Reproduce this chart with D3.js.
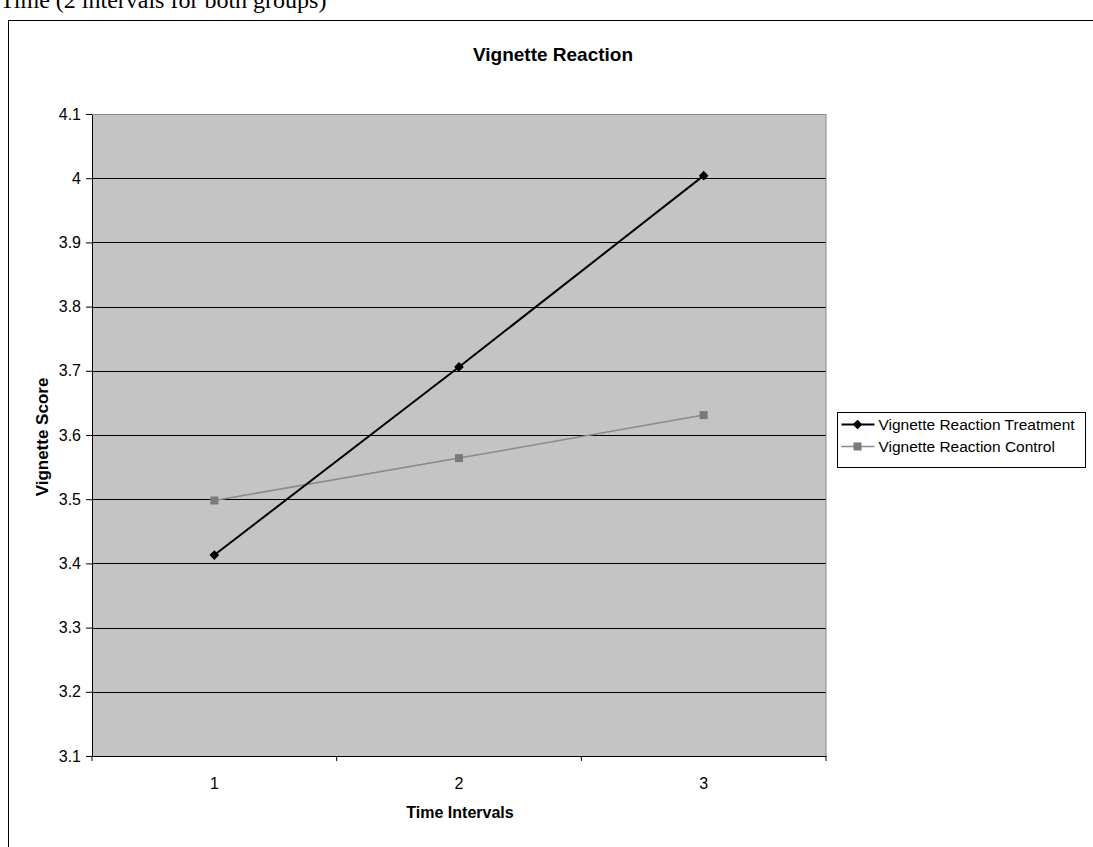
<!DOCTYPE html>
<html>
<head>
<meta charset="utf-8">
<script src="https://cdn.jsdelivr.net/npm/d3@7"></script>
<style>
  body { margin: 0; background: #fff; }
  svg { display: block; }
</style>
</head>
<body>
<div id="chart"></div>
<script>
// data
const categories = ['1', '2', '3'];
const treatment = [3.413, 3.706, 4.004];
const control = [3.498, 3.564, 3.631];
const yTicks = [3.1, 3.2, 3.3, 3.4, 3.5, 3.6, 3.7, 3.8, 3.9, 4, 4.1];
const seriesNames = ['Vignette Reaction Treatment', 'Vignette Reaction Control'];

const W = 1093, H = 847;
const margin = { top: 114, left: 92, right: 267, bottom: 91 };
const width = W - margin.left - margin.right;
const height = H - margin.top - margin.bottom;

const svg = d3.select('#chart').append('svg')
  .attr('width', W).attr('height', H)
  .style('font-family', 'Arial, "Liberation Sans", sans-serif');

// caption line from the page above the chart (cropped in the source)
svg.append('text')
  .attr('x', 0).attr('y', 8)
  .style('font-family', '"Liberation Serif", "Times New Roman", serif')
  .style('font-size', '24px')
  .text('Time (2 intervals for both groups)');

// chart frame
svg.append('rect')
  .attr('x', 8.5).attr('y', 20.5)
  .attr('width', W + 10).attr('height', H)
  .attr('fill', 'none').attr('stroke', '#000');

const g = svg.append('g')
  .attr('transform', `translate(${margin.left},${margin.top})`);

const x = d3.scaleBand().domain(categories).range([0, width]);
const y = d3.scaleLinear().domain([3.1, 4.1]).range([height, 0]);

// plot area
g.append('rect')
  .attr('width', width).attr('height', height)
  .attr('fill', '#c4c4c4');

// gridlines
g.append('g')
  .selectAll('line')
  .data(yTicks.slice(1))
  .enter().append('line')
  .attr('x1', 0).attr('x2', width)
  .attr('y1', d => Math.round(y(d)) + 0.5)
  .attr('y2', d => Math.round(y(d)) + 0.5)
  .attr('stroke', '#000').attr('stroke-width', 1);

// axes
const yAxis = g.append('g')
  .call(d3.axisLeft(y).tickValues(yTicks).tickSize(6).tickPadding(5).tickFormat(d3.format('')));
yAxis.attr('font-size', null).attr('font-family', null);
yAxis.selectAll('text').style('font-size', '16px').attr('fill', '#000');

const xAxis = g.append('g')
  .attr('transform', `translate(0,${height})`)
  .call(d3.axisBottom(x).tickSize(0).tickPadding(22));
xAxis.attr('font-size', null).attr('font-family', null);
xAxis.selectAll('text').style('font-size', '16px').attr('fill', '#000');

// tick marks between categories
g.append('g')
  .selectAll('line')
  .data(categories.concat(['end']))
  .enter().append('line')
  .attr('x1', (d, i) => i < categories.length ? x(d) : width)
  .attr('x2', (d, i) => i < categories.length ? x(d) : width)
  .attr('y1', height).attr('y2', height + 5)
  .attr('stroke', '#000');

g.append('line')
  .attr('x1', width).attr('x2', width)
  .attr('y1', 0).attr('y2', height)
  .attr('stroke', '#888');
g.append('line')
  .attr('x1', 0).attr('x2', width)
  .attr('y1', 0.5).attr('y2', 0.5)
  .attr('stroke', '#888');

// lines
const line = d3.line()
  .x((d, i) => x(categories[i]) + x.bandwidth() / 2)
  .y(d => y(d));

g.append('path').datum(control)
  .attr('d', line).attr('fill', 'none')
  .attr('stroke', '#8a8a8a').attr('stroke-width', 1.5);

g.append('path').datum(treatment)
  .attr('d', line).attr('fill', 'none')
  .attr('stroke', '#000').attr('stroke-width', 2);

// markers
g.append('g').selectAll('rect')
  .data(control).enter().append('rect')
  .attr('x', (d, i) => x(categories[i]) + x.bandwidth() / 2 - 4)
  .attr('y', d => y(d) - 4)
  .attr('width', 8).attr('height', 8)
  .attr('fill', '#7a7a7a');

g.append('g').selectAll('path')
  .data(treatment).enter().append('path')
  .attr('d', d3.symbol().type(d3.symbolDiamond2).size(60))
  .attr('transform', (d, i) => `translate(${x(categories[i]) + x.bandwidth() / 2},${y(d)})`)
  .attr('fill', '#000');

// title (centred over the whole chart area) and axis labels
svg.append('text')
  .attr('x', 553).attr('y', 61)
  .attr('text-anchor', 'middle')
  .style('font-size', '19px').style('font-weight', 'bold')
  .text('Vignette Reaction');

svg.append('text')
  .attr('x', margin.left + width / 2 + 1).attr('y', 818)
  .attr('text-anchor', 'middle')
  .style('font-size', '16px').style('font-weight', 'bold')
  .text('Time Intervals');

svg.append('text')
  .attr('transform', `translate(48,${margin.top + height / 2 + 2}) rotate(-90)`)
  .attr('text-anchor', 'middle')
  .style('font-size', '17px').style('font-weight', 'bold')
  .text('Vignette Score');

// legend
const legend = svg.append('g').attr('transform', 'translate(837.5,412.5)');
legend.append('rect')
  .attr('width', 248).attr('height', 55)
  .attr('fill', '#fff').attr('stroke', '#000');

const rows = legend.selectAll('g.row')
  .data(seriesNames).enter().append('g')
  .attr('transform', (d, i) => `translate(0,${12 + i * 22})`);

rows.append('line')
  .attr('x1', 4).attr('x2', 37)
  .attr('stroke', (d, i) => i === 0 ? '#000' : '#8a8a8a')
  .attr('stroke-width', (d, i) => i === 0 ? 2 : 1.5);

rows.filter((d, i) => i === 0).append('path')
  .attr('d', d3.symbol().type(d3.symbolDiamond2).size(60))
  .attr('transform', 'translate(20,0)')
  .attr('fill', '#000');
rows.filter((d, i) => i === 1).append('rect')
  .attr('x', 16).attr('y', -4).attr('width', 8).attr('height', 8)
  .attr('fill', '#7a7a7a');

rows.append('text')
  .attr('x', 41).attr('y', 5.5)
  .style('font-size', '15.5px')
  .text(d => d);
</script>
</body>
</html>
